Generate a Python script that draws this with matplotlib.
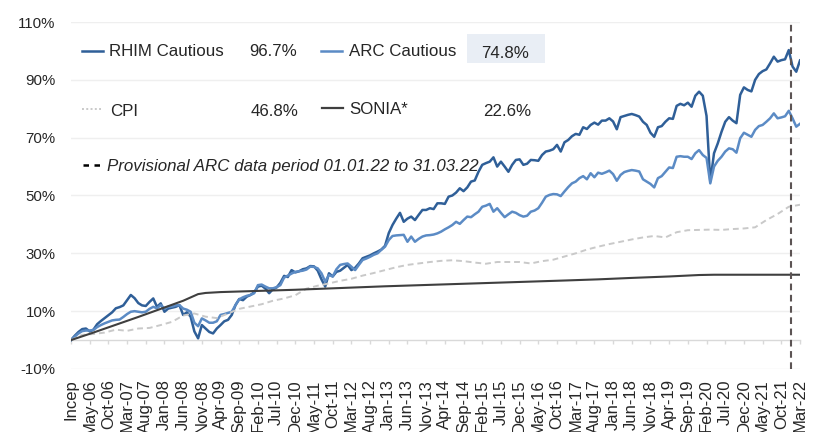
import matplotlib
matplotlib.use("Agg")
import matplotlib.pyplot as plt
from matplotlib.lines import Line2D
from matplotlib.patches import Rectangle

plt.rcParams['font.family'] = ['Liberation Sans', 'DejaVu Sans']

# ---------------- data ----------------
tick_labels = ["Incep", "May-06", "Oct-06", "Mar-07", "Aug-07", "Jan-08", "Jun-08", "Nov-08",
               "Apr-09", "Sep-09", "Feb-10", "Jul-10", "Dec-10", "May-11", "Oct-11", "Mar-12",
               "Aug-12", "Jan-13", "Jun-13", "Nov-13", "Apr-14", "Sep-14", "Feb-15", "Jul-15",
               "Dec-15", "May-16", "Oct-16", "Mar-17", "Aug-17", "Jan-18", "Jun-18", "Nov-18",
               "Apr-19", "Sep-19", "Feb-20", "Jul-20", "Dec-20", "May-21", "Oct-21", "Mar-22"]

rhim = [0, 1.5, 2.8, 3.8, 4.0, 3.0, 3.6, 5.5, 6.6, 7.6,
        8.6, 9.6, 11.0, 11.4, 12.0, 13.8, 15.6, 14.5, 12.8, 12.0,
        11.8, 13.2, 14.4, 11.5, 12.7, 9.8, 10.9, 11.2, 11.5, 12.1,
        8.7, 9.6, 8.1, 3.0, 0.6, 5.2, 4.0, 2.8, 2.3, 4.0,
        5.2, 6.5, 7.0, 8.7, 12.1, 14.2, 13.8, 15.0, 15.6, 16.5,
        18.5, 18.8, 17.8, 16.2, 17.6, 18.2, 19.8, 22.2, 21.8, 24.2,
        23.4, 23.8, 24.5, 24.8, 25.6, 25.5, 24.0, 21.0, 18.5, 23.1,
        22.0, 23.6, 24.0, 25.0, 26.0, 24.2, 25.0, 26.5, 28.3, 28.8,
        29.3, 30.0, 30.6, 31.3, 32.6, 37.0, 39.8, 42.0, 44.0, 40.9,
        42.0, 42.7, 41.5, 43.3, 45.0, 45.0, 45.6, 45.3, 47.3, 47.3,
        47.1, 49.6, 50.0, 51.0, 52.5, 51.5, 52.8, 54.8, 55.2, 58.2,
        60.6, 61.2, 61.7, 63.2, 60.0, 61.7, 60.0, 58.2, 60.6, 62.3,
        62.5, 60.6, 61.0, 62.3, 62.2, 62.0, 64.0, 65.2, 65.5, 66.0,
        67.5, 65.2, 68.4, 69.2, 70.5, 71.3, 71.0, 73.6, 73.0, 74.4,
        75.2, 74.5, 75.9, 75.9, 76.7, 75.6, 72.9, 77.1, 77.5, 77.9,
        78.2, 77.8, 77.3, 75.5, 74.4, 71.7, 70.3, 73.6, 74.0, 75.5,
        76.7, 76.5, 81.0, 81.7, 81.2, 82.1, 80.7, 84.5, 85.9, 84.5,
        77.5, 54.8, 64.6, 68.0, 72.0, 75.5, 77.1, 75.9, 75.0, 84.8,
        87.4, 86.5, 86.0, 90.0, 92.0, 93.0, 93.6, 95.7, 98.0, 96.3,
        96.8, 97.1, 100.3, 94.6, 92.8, 96.7]

arc = [0, 1.2, 2.3, 3.1, 3.3, 3.3, 3.5, 4.5, 5.2, 5.8,
       6.3, 6.8, 7.0, 7.1, 8.0, 9.0, 9.8, 10.0, 9.8, 9.6,
       9.8, 10.8, 11.5, 11.0, 12.1, 11.0, 11.5, 11.6, 12.0, 12.1,
       10.9, 10.5, 9.8, 6.0, 4.8, 7.5, 6.8, 6.0, 6.0, 6.5,
       8.7, 9.0, 9.4, 9.8, 12.1, 14.1, 14.8, 15.3, 15.6, 16.2,
       19.0, 19.2, 18.5, 17.9, 17.9, 18.3, 19.0, 21.6, 22.3, 23.0,
       23.6, 23.8, 24.0, 24.4, 25.4, 25.3, 24.8, 23.1, 20.2, 22.5,
       22.0, 24.5, 26.0, 26.3, 26.5, 25.4, 24.2, 26.0, 27.7, 28.2,
       28.8, 29.5, 30.0, 31.2, 32.3, 34.6, 36.0, 36.2, 36.3, 36.4,
       34.0, 35.8, 34.0, 35.0, 35.8, 36.2, 36.3, 36.5, 36.9, 37.5,
       38.3, 39.0, 39.8, 40.9, 40.2, 41.5, 42.7, 42.5, 43.5, 44.4,
       46.1, 46.5, 47.1, 44.4, 45.6, 44.0, 42.5, 43.5, 44.4, 44.0,
       43.2, 42.7, 43.0, 44.4, 44.8, 45.6, 47.5, 49.6, 50.2, 50.5,
       50.4, 49.8, 51.4, 52.9, 54.2, 54.8, 56.0, 56.7, 55.6, 57.7,
       56.3, 57.9, 57.5, 58.0, 58.6, 57.4, 55.1, 57.1, 58.1, 58.5,
       58.8, 58.6, 58.3, 55.6, 54.8, 54.0, 52.8, 56.0, 56.7, 58.2,
       59.7, 59.5, 63.4, 63.6, 63.4, 63.4, 62.6, 64.6, 65.7, 64.0,
       63.0, 54.2, 60.0, 62.0, 63.4, 65.2, 66.3, 66.0, 64.8, 69.8,
       71.7, 71.0, 70.3, 72.7, 74.0, 74.4, 75.5, 76.7, 78.4, 76.7,
       77.0, 77.4, 79.3, 76.7, 73.8, 74.8]

cpi_months = [0, 3, 6, 9, 12, 15, 18, 21, 24, 27, 30, 33, 36, 39, 42, 45, 48, 51, 54, 57,
              60, 63, 66, 69, 72, 75, 78, 81, 84, 87, 90, 93, 96, 99, 102, 105, 108, 111,
              114, 117, 120, 123, 126, 129, 132, 135, 138, 141, 144, 147, 150, 153, 156,
              159, 162, 165, 168, 171, 174, 177, 180, 183, 186, 189, 192, 195]
cpi = [0, 1.8, 2.1, 2.6, 3.6, 3.2, 4.0, 4.2, 5.2, 6.3, 8.5, 9.2, 8.1, 7.6, 9.2, 10.8, 11.6,
       12.4, 13.6, 14.4, 15.5, 17.8, 18.8, 19.6, 20.5, 21.2, 22.3, 23.2, 24.2, 25.2, 26.0,
       26.5, 27.0, 27.4, 27.6, 27.3, 26.8, 26.4, 27.0, 27.0, 27.0, 26.5, 27.3, 27.8, 28.9,
       30.0, 31.3, 32.3, 33.2, 34.0, 34.8, 35.5, 36.0, 35.5, 37.3, 38.0, 38.1, 38.2, 38.1,
       38.4, 38.6, 39.0, 41.5, 43.6, 46.1, 46.8]

sonia_months = [0, 6, 12, 18, 24, 30, 34, 36, 40, 45, 60, 72, 84, 96, 108, 120, 132, 141,
                150, 160, 168, 172, 195]
sonia = [0, 2.6, 5.3, 8.0, 10.8, 13.6, 15.9, 16.3, 16.6, 16.8, 17.4, 18.0, 18.6, 19.1,
         19.6, 20.1, 20.6, 21.0, 21.5, 22.0, 22.5, 22.6, 22.6]

provisional_start = 192.6   # boundary between Dec-21 and Jan-22

legend_names = ["RHIM Cautious", "ARC Cautious", "CPI", "SONIA*"]
legend_values = ["96.7%", "74.8%", "46.8%", "22.6%"]
note_text = "Provisional ARC data period 01.01.22 to 31.03.22"

# ---------------- style ----------------
C_RHIM = "#2f5f98"
C_ARC = "#5b8bc5"
C_CPI = "#c9c9c9"
C_SONIA = "#3f3f3f"
C_VLINE = "#5c5454"
C_TEXT = "#262626"

W, H = 819, 432
fig = plt.figure(figsize=(W / 100, H / 100), dpi=100)
ax = fig.add_axes([71 / W, 1 - 369 / H, (800 - 71) / W, (369 - 22) / H])

x_idx = list(range(len(rhim)))
ax.plot(x_idx, rhim, color=C_RHIM, lw=1.8, solid_joinstyle='round', zorder=3)
ax.plot(x_idx, arc, color=C_ARC, lw=1.8, solid_joinstyle='round', zorder=3)
ax.plot(cpi_months, cpi, color=C_CPI, lw=1.4, dashes=(3, 2), zorder=3)
ax.plot(sonia_months, sonia, color=C_SONIA, lw=1.5, zorder=3)
ax.axvline(provisional_start, color=C_VLINE, lw=1.5, dashes=(3.2, 2.2), zorder=4)

ax.set_xlim(0, len(rhim) - 1)
ax.set_ylim(-10, 110)
yt = list(range(-10, 111, 20))
ax.set_yticks(yt)
ax.set_yticklabels([f"{v}%" for v in yt])
ax.grid(axis='y', color='#efefef', lw=1)
ax.set_axisbelow(True)

ax.set_xticks(list(range(0, len(rhim), 5)))
ax.set_xticklabels(tick_labels)

for s in ['top', 'right', 'left']:
    ax.spines[s].set_visible(False)
ax.spines['bottom'].set_position(('data', 0))
ax.spines['bottom'].set_color('#d9d9d9')
ax.spines['bottom'].set_linewidth(1)
ax.spines['bottom'].set_zorder(2)
ax.tick_params(axis='x', direction='out', length=3.2, width=1, color='#d9d9d9',
               pad=25, labelsize=12, labelcolor=C_TEXT, labelrotation=90)
ax.tick_params(axis='y', length=0, pad=11, labelsize=10.8, labelcolor=C_TEXT)
for lbl in ax.get_xticklabels():
    lbl.set_rotation(90)
    lbl.set_ha('center')
    lbl.set_va('top')

# ---------------- custom legend ----------------
def fx(px):
    return px / W

def fy(py):
    return 1 - py / H

fs = 12.2
fig.add_artist(Rectangle((fx(466.7), fy(62.7)), fx(545) - fx(466.7), fy(34) - fy(62.7),
                         transform=fig.transFigure, facecolor='#e9eef5', edgecolor='none'))

fig.add_artist(Line2D([fx(82), fx(103)], [fy(51), fy(51)], color=C_RHIM, lw=1.8))
fig.add_artist(Line2D([fx(321), fx(342)], [fy(51), fy(51)], color=C_ARC, lw=1.8))
fig.add_artist(Line2D([fx(82), fx(101)], [fy(109), fy(109)], color=C_CPI, lw=1.4,
                      dashes=(1, 1.2)))
fig.add_artist(Line2D([fx(322), fx(343)], [fy(108), fy(108)], color=C_SONIA, lw=1.6))
fig.add_artist(Line2D([fx(83), fx(100)], [fy(164.5), fy(164.5)], color='black', lw=1.8,
                      dashes=(2.2, 2.2)))

fig.text(fx(109.3), fy(56), legend_names[0], fontsize=fs, color=C_TEXT, va='baseline')
fig.text(fx(249.3), fy(56), legend_values[0], fontsize=fs, color=C_TEXT, va='baseline')
fig.text(fx(349.3), fy(56), legend_names[1], fontsize=fs, color=C_TEXT, va='baseline')
fig.text(fx(480.7), fy(58.5), legend_values[1], fontsize=fs, color=C_TEXT, va='baseline')
fig.text(fx(110), fy(115.5), legend_names[2], fontsize=fs, color=C_TEXT, va='baseline')
fig.text(fx(250.7), fy(115.5), legend_values[2], fontsize=fs, color=C_TEXT, va='baseline')
fig.text(fx(349.3), fy(114.5), legend_names[3], fontsize=fs, color=C_TEXT, va='baseline')
fig.text(fx(482.7), fy(115.5), legend_values[3], fontsize=fs, color=C_TEXT, va='baseline')
fig.text(fx(106.7), fy(170.5), note_text, fontsize=fs, color=C_TEXT, va='baseline',
         style='italic')

fig.savefig("out.png", dpi=100)
